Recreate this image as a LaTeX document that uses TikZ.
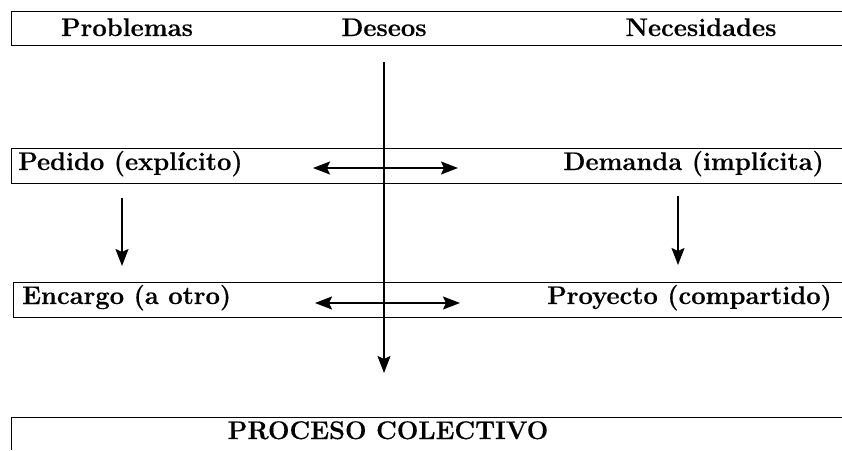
\documentclass[tikz,border=0pt]{standalone}
\usepackage{fontspec}
\setmainfont{Latin Modern Roman}[BoldFeatures={FakeBold=0.4}]
\usepackage{tikz}
\usetikzlibrary{arrows.meta}

\tikzset{
  lbl/.style={font=\fontsize{25.5}{30}\selectfont\bfseries, inner sep=0pt},
  band/.style={line width=1pt},
  flecha/.style={line width=1.8pt, -{Stealth[length=17pt,width=13pt,inset=3pt]}},
  dflecha/.style={line width=1.8pt, {Stealth[length=17pt,width=13pt,inset=3pt]}-{Stealth[length=17pt,width=13pt,inset=3pt]}}
}

\begin{document}
\begin{tikzpicture}[x=1pt, y=-1pt]
    \useasboundingbox (0,0) rectangle (842,450);

    % pruge
    \draw[band] (842,11) -- (11,11) -- (11,45) -- (842,45);
    \draw[band] (842,148) -- (11,148) -- (11,183) -- (842,183);
    \draw[band] (842,282) -- (13,282) -- (13,317) -- (842,317);
    \draw[band] (842,417) -- (11,417) -- (11,450);

    \node[lbl, anchor=base] (P) at (127,36) {Problemas};
    \node[lbl, anchor=base] (D) at (384,36) {Deseos};
    \node[lbl, anchor=base] (N) at (701,36) {Necesidades};

    \node[lbl, anchor=base west] (Pe) at (18,170) {Pedido (explícito)};
    \node[lbl, anchor=base east] (De) at (824,170) {Demanda (implícita)};
    \node[lbl, anchor=base west] (En) at (22,304) {Encargo (a otro)};
    \node[lbl, anchor=base east] (Pr) at (832,304) {Proyecto (compartido)};
    \node[lbl, anchor=base] (PC) at (388,439) {PROCESO COLECTIVO};

    \coordinate (v1) at (384,62);
    \coordinate (v2) at (384,373);
    \coordinate (l1) at (122,198);
    \coordinate (l2) at (122,266);
    \coordinate (r1) at (678,196);
    \coordinate (r2) at (678,265);
    \coordinate (a1) at (313,168);
    \coordinate (a2) at (458,168);
    \coordinate (b1) at (315,303);
    \coordinate (b2) at (460,303);

    \draw[flecha] (v1) -- (v2);
    \draw[flecha] (l1) -- (l2);
    \draw[flecha] (r1) -- (r2);
    \draw[dflecha] (a1) -- (a2);
    \draw[dflecha] (b1) -- (b2);
\end{tikzpicture}
\end{document}
